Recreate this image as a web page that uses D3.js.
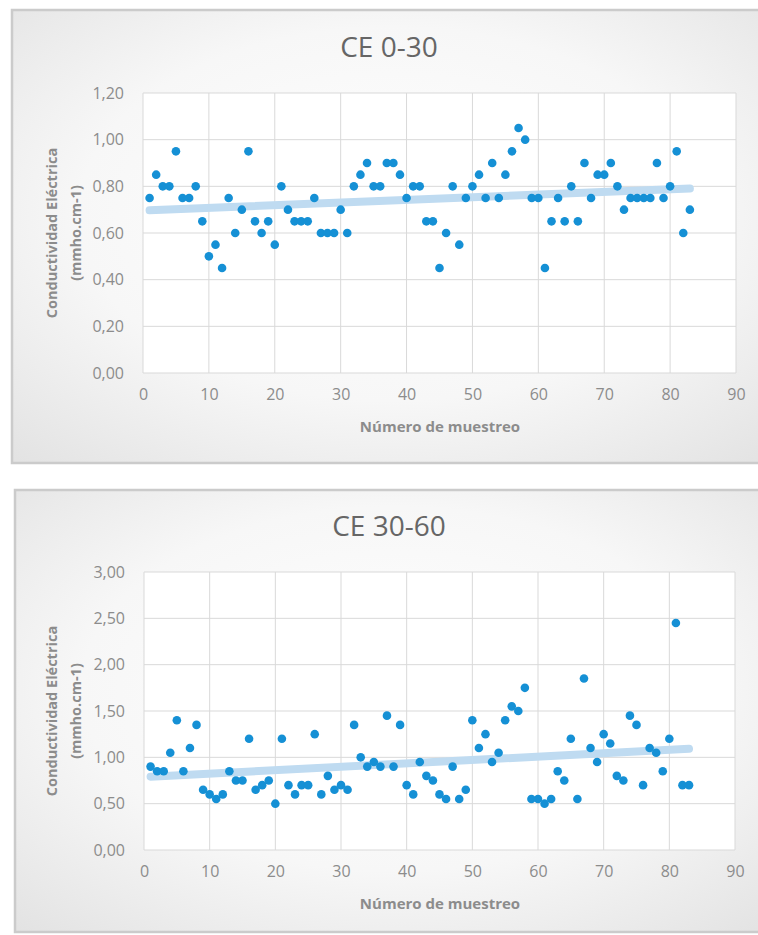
<!DOCTYPE html>
<html>
<head>
<meta charset="utf-8">
<script src="https://cdn.jsdelivr.net/npm/d3@7"></script>
<style>
  body { margin: 0; background: #ffffff; }
  svg { display: block; font-family: "Open Sans", sans-serif; }
</style>
</head>
<body>
<div id="chart"></div>
<script>
// --- Data ---
const muestreo = [
  1, 2, 3, 4, 5, 6, 7, 8, 9, 10, 11, 12, 13, 14, 15, 16, 17, 18, 19, 20,
  21, 22, 23, 24, 25, 26, 27, 28, 29, 30, 31, 32, 33, 34, 35, 36, 37, 38, 39, 40,
  41, 42, 43, 44, 45, 46, 47, 48, 49, 50, 51, 52, 53, 54, 55, 56, 57, 58, 59, 60,
  61, 62, 63, 64, 65, 66, 67, 68, 69, 70, 71, 72, 73, 74, 75, 76, 77, 78, 79, 80,
  81, 82, 83
];

const ce0_30 = [
  0.75, 0.85, 0.80, 0.80, 0.95, 0.75, 0.75, 0.80, 0.65, 0.50,
  0.55, 0.45, 0.75, 0.60, 0.70, 0.95, 0.65, 0.60, 0.65, 0.55,
  0.80, 0.70, 0.65, 0.65, 0.65, 0.75, 0.60, 0.60, 0.60, 0.70,
  0.60, 0.80, 0.85, 0.90, 0.80, 0.80, 0.90, 0.90, 0.85, 0.75,
  0.80, 0.80, 0.65, 0.65, 0.45, 0.60, 0.80, 0.55, 0.75, 0.80,
  0.85, 0.75, 0.90, 0.75, 0.85, 0.95, 1.05, 1.00, 0.75, 0.75,
  0.45, 0.65, 0.75, 0.65, 0.80, 0.65, 0.90, 0.75, 0.85, 0.85,
  0.90, 0.80, 0.70, 0.75, 0.75, 0.75, 0.75, 0.90, 0.75, 0.80,
  0.95, 0.60, 0.70
];

const ce30_60 = [
  0.90, 0.85, 0.85, 1.05, 1.40, 0.85, 1.10, 1.35, 0.65, 0.60,
  0.55, 0.60, 0.85, 0.75, 0.75, 1.20, 0.65, 0.70, 0.75, 0.50,
  1.20, 0.70, 0.60, 0.70, 0.70, 1.25, 0.60, 0.80, 0.65, 0.70,
  0.65, 1.35, 1.00, 0.90, 0.95, 0.90, 1.45, 0.90, 1.35, 0.70,
  0.60, 0.95, 0.80, 0.75, 0.60, 0.55, 0.90, 0.55, 0.65, 1.40,
  1.10, 1.25, 0.95, 1.05, 1.40, 1.55, 1.50, 1.75, 0.55, 0.55,
  0.50, 0.55, 0.85, 0.75, 1.20, 0.55, 1.85, 1.10, 0.95, 1.25,
  1.15, 0.80, 0.75, 1.45, 1.35, 0.70, 1.10, 1.05, 0.85, 1.20,
  2.45, 0.70, 0.70
];

const xTicks = [0, 10, 20, 30, 40, 50, 60, 70, 80, 90];
const yTicks0_30 = [0, 0.2, 0.4, 0.6, 0.8, 1.0, 1.2];
const yTicks30_60 = [0, 0.5, 1.0, 1.5, 2.0, 2.5, 3.0];

const titles = ["CE 0-30", "CE 30-60"];
const yTitle = ["Conductividad Eléctrica", "(mmho.cm-1)"];
const xTitle = "Número de muestreo";

// --- Layout ---
const W = 758, H = 935;
const panels = [
  { title: titles[0], values: ce0_30, yTicks: yTicks0_30, yMax: 1.2,
    box: { x: 12, y: 10, w: 760, h: 453 },
    plot: { left: 143, right: 736, top: 93, bottom: 373 }, titleY: 57 },
  { title: titles[1], values: ce30_60, yTicks: yTicks30_60, yMax: 3.0,
    box: { x: 15, y: 490, w: 760, h: 442 },
    plot: { left: 144, right: 735, top: 572, bottom: 850 }, titleY: 536 }
];

const svg = d3.select("#chart").append("svg")
  .attr("width", W).attr("height", H);

const defs = svg.append("defs");
const grad = defs.append("radialGradient")
  .attr("id", "bg").attr("cx", "50%").attr("cy", "45%").attr("r", "75%");
grad.append("stop").attr("offset", "0%").attr("stop-color", "#ffffff");
grad.append("stop").attr("offset", "55%").attr("stop-color", "#f7f7f7");
grad.append("stop").attr("offset", "100%").attr("stop-color", "#e2e2e2");

const fmt = v => d3.format(".2f")(v).replace(".", ",");

// simple least squares trend, like Excel's linear trendline
function trend(xs, ys) {
  const mx = d3.mean(xs), my = d3.mean(ys);
  let num = 0, den = 0;
  xs.forEach((x, i) => { num += (x - mx) * (ys[i] - my); den += (x - mx) * (x - mx); });
  const b = num / den, a = my - b * mx;
  return x => a + b * x;
}

panels.forEach(p => {
  const g = svg.append("g");

  g.append("rect")
    .attr("x", p.box.x).attr("y", p.box.y)
    .attr("width", p.box.w).attr("height", p.box.h)
    .attr("fill", "url(#bg)")
    .attr("stroke", "#cbcbcb").attr("stroke-width", 2.5);

  const x = d3.scaleLinear().domain([0, 90]).range([p.plot.left, p.plot.right]);
  const y = d3.scaleLinear().domain([0, p.yMax]).range([p.plot.bottom, p.plot.top]);

  // plot area
  g.append("rect")
    .attr("x", p.plot.left).attr("y", p.plot.top)
    .attr("width", p.plot.right - p.plot.left)
    .attr("height", p.plot.bottom - p.plot.top)
    .attr("fill", "#ffffff");

  // gridlines
  g.append("g").selectAll("line.v")
    .data(xTicks).enter().append("line")
    .attr("x1", d => x(d)).attr("x2", d => x(d))
    .attr("y1", p.plot.top).attr("y2", p.plot.bottom)
    .attr("stroke", "#d9d9d9").attr("stroke-width", 1);
  g.append("g").selectAll("line.h")
    .data(p.yTicks).enter().append("line")
    .attr("x1", p.plot.left).attr("x2", p.plot.right)
    .attr("y1", d => y(d)).attr("y2", d => y(d))
    .attr("stroke", "#d9d9d9").attr("stroke-width", 1);

  // axes (labels only, Excel style)
  const yAxis = g.append("g")
    .attr("transform", `translate(${p.plot.left - 16},0)`)
    .call(d3.axisLeft(y).tickValues(p.yTicks).tickFormat(fmt).tickSize(0));
  yAxis.select(".domain").remove();
  yAxis.selectAll("text")
    .attr("font-family", "Open Sans, sans-serif")
    .attr("font-size", 16).attr("fill", "#8c8c8c");

  const xAxis = g.append("g")
    .attr("transform", `translate(0,${p.plot.bottom + 13})`)
    .call(d3.axisBottom(x).tickValues(xTicks).tickSize(0));
  xAxis.select(".domain").remove();
  xAxis.selectAll("text")
    .attr("font-family", "Open Sans, sans-serif")
    .attr("font-size", 16).attr("fill", "#8c8c8c");

  // titles
  g.append("text")
    .attr("x", 389).attr("y", p.titleY)
    .attr("text-anchor", "middle")
    .attr("font-size", 28).attr("fill", "#666666")
    .text(p.title);

  const midY = (p.plot.top + p.plot.bottom) / 2;
  yTitle.forEach((t, i) => {
    g.append("text")
      .attr("transform", `translate(${57 + i * 24},${midY}) rotate(-90)`)
      .attr("text-anchor", "middle")
      .attr("font-size", 14.5).attr("font-weight", "bold").attr("fill", "#8c8c8c")
      .text(t);
  });

  g.append("text")
    .attr("x", 440).attr("y", p.plot.bottom + 59)
    .attr("text-anchor", "middle")
    .attr("font-size", 15).attr("font-weight", "bold").attr("fill", "#8c8c8c")
    .text(xTitle);

  // trendline
  const f = trend(muestreo, p.values);
  const x0 = d3.min(muestreo), x1 = d3.max(muestreo);
  g.append("line")
    .attr("x1", x(x0)).attr("y1", y(f(x0)))
    .attr("x2", x(x1)).attr("y2", y(f(x1)))
    .attr("stroke", "#bfdbf1").attr("stroke-width", 8)
    .attr("stroke-linecap", "round");

  // points
  g.append("g").selectAll("circle")
    .data(p.values).enter().append("circle")
    .attr("cx", (d, i) => x(muestreo[i]))
    .attr("cy", d => y(d))
    .attr("r", 4.3)
    .attr("fill", "#1590d5");
});
</script>
</body>
</html>
